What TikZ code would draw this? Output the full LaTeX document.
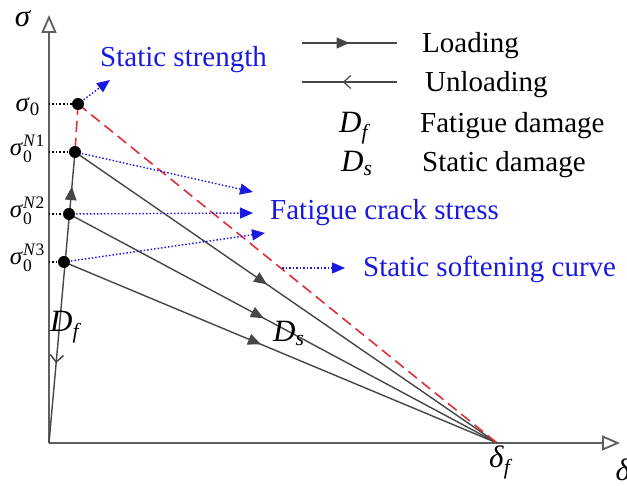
\documentclass[tikz,border=0pt]{standalone}
\usepackage{amsmath}
\usepackage{fontspec}
\setmainfont{Liberation Serif}
\usetikzlibrary{arrows.meta, positioning, decorations.markings}

\definecolor{axisgray}{RGB}{95,95,95}
\definecolor{linegray}{RGB}{70,70,70}
\definecolor{noteblue}{RGB}{25,25,225}
\definecolor{softred}{RGB}{225,45,55}

\newcommand{\mv}[1]{\text{\textit{#1}}}

\begin{document}
\begin{tikzpicture}[
  x=1pt, y=1pt,
  font=\fontsize{29}{32}\selectfont,
  axis/.style={draw=axisgray, line width=1.8pt, -{Triangle[open, length=18pt, width=15pt]}},
  branch/.style={draw=linegray, line width=1.4pt},
  dot/.style={circle, fill=black, inner sep=0pt, minimum size=12pt},
  guide/.style={draw=black, line width=1.2pt, dash pattern=on 1.5pt off 2pt},
  static/.style={draw=softred, line width=1.6pt, dash pattern=on 11pt off 6pt},
  note/.style={draw=noteblue, line width=1.4pt, dash pattern=on 1.5pt off 2pt, -{Triangle[length=13pt, width=11pt]}},
  notetext/.style={text=noteblue, anchor=base west, inner sep=0pt},
  legtext/.style={anchor=base west, inner sep=0pt},
  stress/.style={anchor=base east, inner sep=0pt, font=\fontsize{25}{27}\selectfont},
  bigmath/.style={font=\fontsize{31}{34}\selectfont},
  load/.style={postaction={decorate}, decoration={markings,
    mark=at position #1 with {\arrow{Triangle[length=13pt, width=11pt]}}}},
  unload/.style={postaction={decorate}, decoration={markings,
    mark=at position #1 with {\arrowreversed{Straight Barb[length=7pt, width=13pt, line width=1.2pt]}}}}
]

\useasboundingbox (-49,-43) rectangle (578,443);

\coordinate (O) at (0,0);
\coordinate (ytip) at (0,428);
\coordinate (xtip) at (571,0);
\coordinate (df) at (448,0);
\coordinate (s0) at (29,339);
\coordinate (n1) at (26,291);
\coordinate (n2) at (20,229);
\coordinate (n3) at (15,181);
\coordinate (a0) at (0,339);
\coordinate (a1) at (0,291);
\coordinate (a2) at (0,229);
\coordinate (a3) at (0,181);

\draw[axis] (O) -- (ytip);
\draw[axis] (O) -- (xtip);

\draw[guide] (a0) -- (s0);
\draw[guide] (a1) -- (n1);
\draw[guide] (a2) -- (n2);
\draw[guide] (a3) -- (n3);

\draw[branch, load=0.88, unload=0.275] (O) -- (n1);
\draw[branch, load=0.455] (n1) -- (df);
\draw[branch, load=0.455] (n2) -- (df);
\draw[branch, load=0.455] (n3) -- (df);

\draw[static] (s0) -- (n1);
\draw[static] (s0) -- (df);

\coordinate (t0) at (61,363);
\coordinate (t1) at (204,251);
\coordinate (t2) at (204,230);
\coordinate (t3) at (216,210);
\coordinate (u0) at (233,175);
\coordinate (u1) at (296,175);

\draw[note] (s0) -- (t0);
\draw[note] (n1) -- (t1);
\draw[note] (n2) -- (t2);
\draw[note] (n3) -- (t3);
\draw[note] (u0) -- (u1);

\node[dot] (p0) at (s0) {};
\node[dot] (p1) at (n1) {};
\node[dot] (p2) at (n2) {};
\node[dot] (p3) at (n3) {};

\node[bigmath, anchor=base] (sig) at (-26,416) {$\mv{σ}$};
\node[bigmath] (del) at (574,-27) {$\mv{δ}$};
\node[bigmath, anchor=base] (delf) at (452,-25) {$\mv{δ}_{\mv{f}}$};

\node[stress, font=\fontsize{27}{29}\selectfont] (l0) at (-9,331) {$\mv{σ}_{\text{0}}$};
\node[stress] (l1) at (-4,287) {$\mv{σ}_{\text{0}}^{\mv{N}\text{1}}$};
\node[stress] (l2) at (-4,225) {$\mv{σ}_{\text{0}}^{\mv{N}\text{2}}$};
\node[stress] (l3) at (-4,178) {$\mv{σ}_{\text{0}}^{\mv{N}\text{3}}$};

\node[legtext, bigmath] (dflab) at (1,111) {$\mv{D}_{\mv{f}}$};
\node[legtext, bigmath] (dslab) at (224,101) {$\mv{D}_{\mv{s}}$};

\node[notetext] (strength) at (51,376) {Static strength};
\node[notetext] (crack) at (221,223) {Fatigue crack stress};
\node[notetext] (soft) at (314,166) {Static softening curve};

\coordinate (k1) at (253,400);
\coordinate (k2) at (348,400);
\coordinate (k3) at (253,361);
\coordinate (k4) at (348,361);
\draw[branch, load=0.5] (k1) -- (k2);
\draw[branch, unload=0.43] (k3) -- (k4);
\node[legtext] (kload) at (373,390) {Loading};
\node[legtext] (kunload) at (376,351) {Unloading};
\node[legtext, bigmath] (kdf) at (290,310) {$\mv{D}_{\mv{f}}$};
\node[legtext] (kfat) at (371,310) {Fatigue damage};
\node[legtext, bigmath] (kds) at (292,271) {$\mv{D}_{\mv{s}}$};
\node[legtext] (ksta) at (373,271) {Static damage};

\end{tikzpicture}
\end{document}
